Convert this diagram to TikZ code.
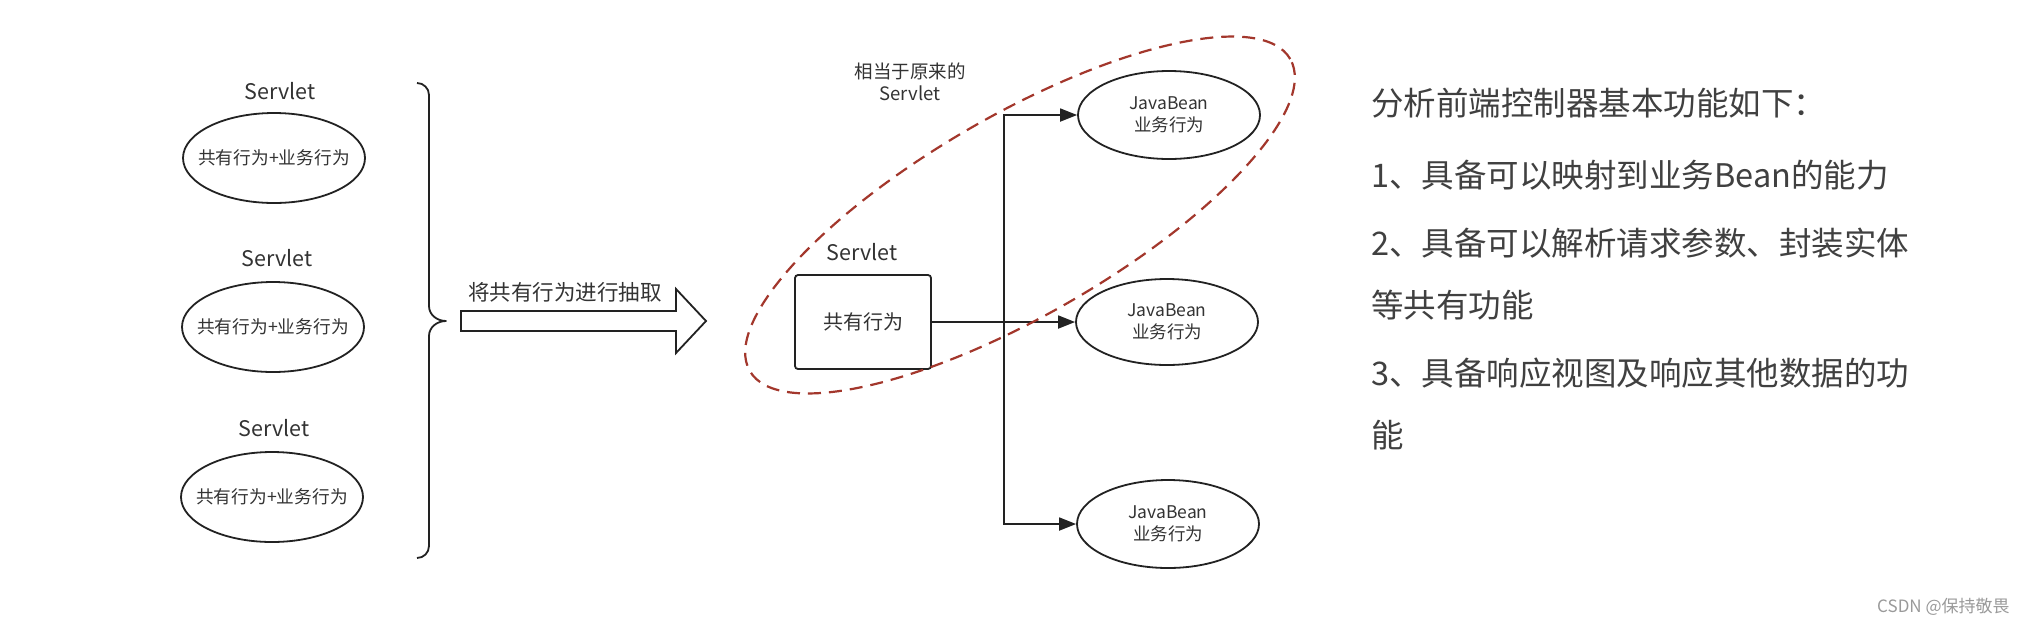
\documentclass[tikz,border=0pt]{standalone}
\usepackage{fontspec}
\setmainfont{Noto Sans CJK SC}
\usetikzlibrary{shapes.geometric,arrows.meta}
\definecolor{txt}{HTML}{333333}
\definecolor{rtxt}{HTML}{404040}
\definecolor{dred}{HTML}{A3372C}
\definecolor{ink}{HTML}{222222}
\definecolor{wm}{HTML}{9A9A9A}
\newcommand{\fsz}[2]{\fontsize{#1}{#2}\selectfont}
\begin{document}
\begin{tikzpicture}[x=1pt,y=-1pt,
  servlet/.style={text=txt,font=\fsz{21.5}{24},inner sep=0pt},
  oval/.style={ellipse,draw=ink,line width=1.8pt,minimum width=182pt,minimum height=90pt,inner sep=0pt,text=txt,align=center},
  lefttext/.style={font=\fsz{17.7}{22},inner xsep=-30pt},
  beantext/.style={font=\fsz{17.5}{22}},
  boxnode/.style={draw=ink,line width=1.8pt,rounded corners=3pt,minimum width=136pt,minimum height=94pt,inner sep=0pt,text=txt,font=\fsz{20}{24}},
  conn/.style={draw=ink,line width=1.8pt,-{Triangle[length=17pt,width=13pt]}},
  righttext/.style={anchor=west,inner sep=0pt,text=rtxt,font=\fsz{32.5}{36}},
]
\fill[white] (0,0) rectangle (2028,625);
\useasboundingbox (0,0) rectangle (2028,625);

% left column
\node[servlet] (l1) at (280,91) {Servlet};
\node[servlet] (l2) at (277,258) {Servlet};
\node[servlet] (l3) at (274,428) {Servlet};
\node[oval,lefttext] (e1) at (274,158) {共有行为+业务行为};
\node[oval,lefttext] (e2) at (273,327) {共有行为+业务行为};
\node[oval,lefttext] (e3) at (272,497) {共有行为+业务行为};

% brace
\draw[ink,line width=1.8pt,line join=round]
  (417,83) to[out=0,in=90] (429,95) -- (429,306)
  to[out=-90,in=180] (446,321) to[out=180,in=90] (429,336)
  -- (429,546) to[out=-90,in=0] (417,558);

% big arrow
\draw[ink,line width=1.8pt,line join=miter,fill=white]
  (461,311) -- (676,311) -- (676,289) -- (706,321) -- (676,353) -- (676,331) -- (461,331) -- cycle;
\node[text=txt,font=\fsz{21.5}{24},inner sep=0pt] (lab) at (565,292) {将共有行为进行抽取};

% middle
\node[text=txt,font=\fsz{18.5}{21.5},align=center,inner sep=0pt] (note) at (910,82) {相当于原来的\\Servlet};
\node[servlet] (bl) at (862,252) {Servlet};
\node[boxnode] (box) at (863,322) {共有行为};
\node[oval,beantext,minimum height=88pt] (j1) at (1169,115) {JavaBean\\业务行为};
\node[oval,beantext,minimum height=86pt] (j2) at (1167,322) {JavaBean\\业务行为};
\node[oval,beantext,minimum height=88pt] (j3) at (1168,524) {JavaBean\\业务行为};
\coordinate (split) at (1004,322);

\draw[conn] (box.east) -- (j2.west);
\draw[conn] (split) |- (j1.west);
\draw[conn] (split) |- (j3.west);

% dashed grouping ellipse
\draw[dred,line width=2.2pt,dash pattern=on 13pt off 8pt,rotate around={30:(1020,215)}]
  (1020,215) ellipse [x radius=312pt, y radius=100pt];

% right text
\node[righttext] (t1) at (1371,103) {分析前端控制器基本功能如下：};
\node[righttext] (t2) at (1371,175) {1、具备可以映射到业务Bean的能力};
\node[righttext] (t3) at (1371,243) {2、具备可以解析请求参数、封装实体};
\node[righttext] (t4) at (1371,305) {等共有功能};
\node[righttext] (t5) at (1371,373) {3、具备响应视图及响应其他数据的功};
\node[righttext] (t6) at (1371,435) {能};

% watermark
\node[anchor=west,inner sep=0pt,text=wm,font=\fsz{17}{20}] (wmk) at (1877,607) {CSDN @保持敬畏};
\end{tikzpicture}
\end{document}
